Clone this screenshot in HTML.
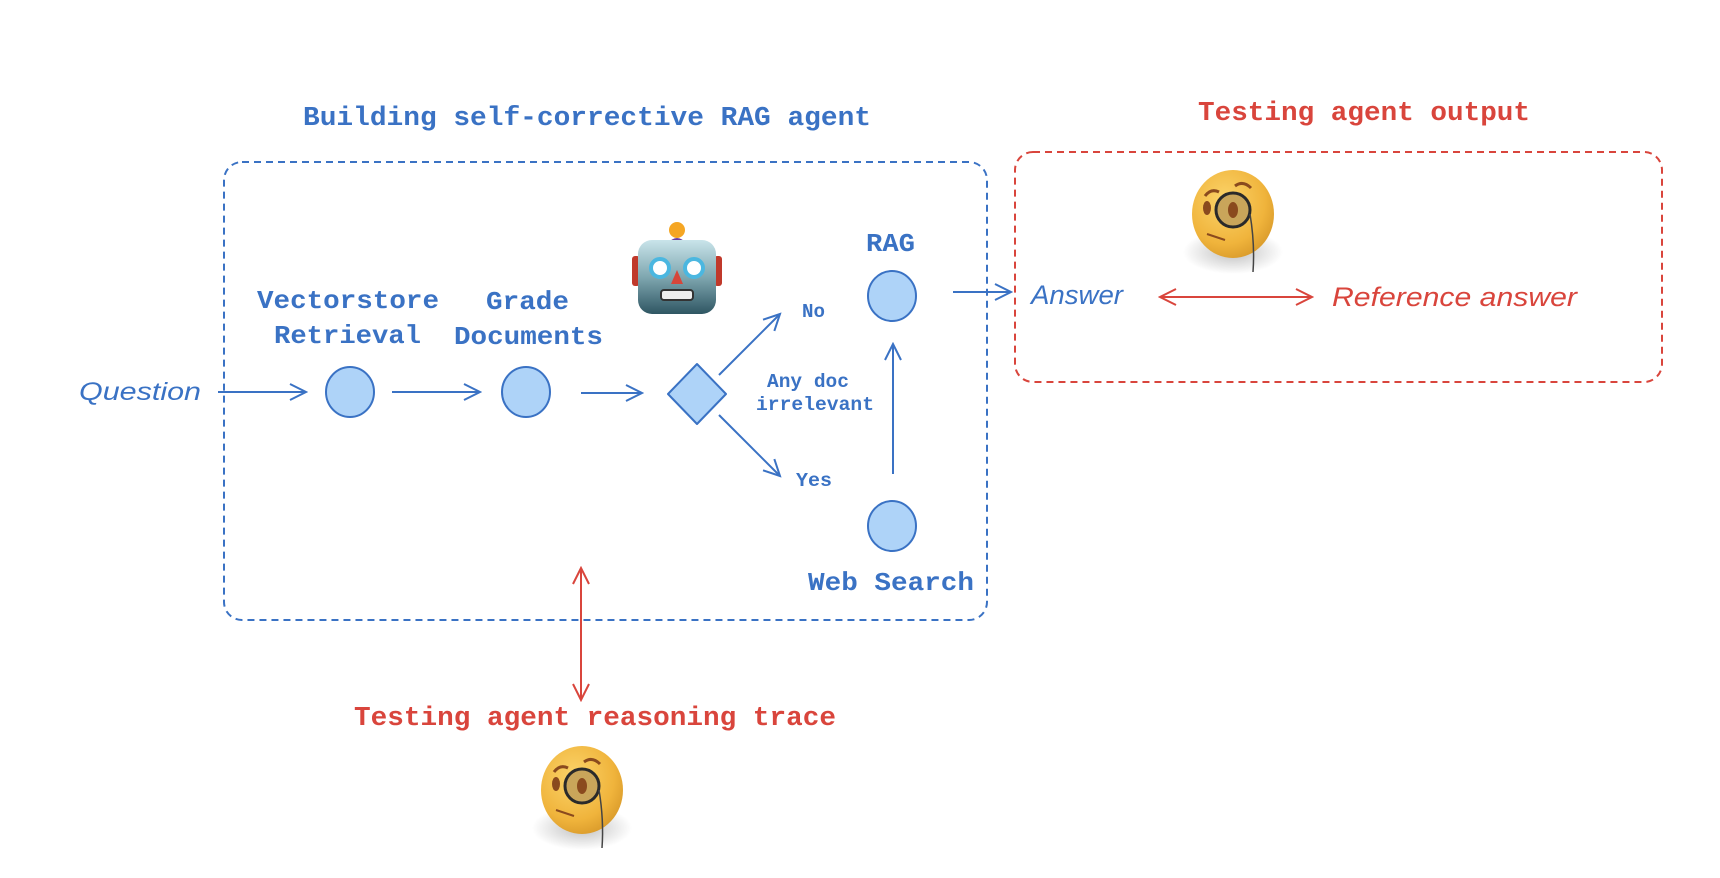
<!DOCTYPE html>
<html><head><meta charset="utf-8"><style>
html,body{margin:0;padding:0;background:#fff;}
svg{display:block;}
.m{font-family:"Liberation Mono","DejaVu Sans Mono",monospace;font-weight:bold;}
.h{font-family:"Liberation Sans","DejaVu Sans",sans-serif;font-style:italic;}
</style></head><body>
<svg width="1720" height="878" viewBox="0 0 1720 878" xmlns="http://www.w3.org/2000/svg">
<defs>
<marker id="ab" viewBox="0 0 20 20" refX="18" refY="10" markerWidth="20" markerHeight="20" markerUnits="userSpaceOnUse" orient="auto-start-reverse"><path d="M2 2 L18 10 L2 18" fill="none" stroke="#3a72c4" stroke-width="2"/></marker>
<marker id="ar" viewBox="0 0 20 20" refX="18" refY="10" markerWidth="20" markerHeight="20" markerUnits="userSpaceOnUse" orient="auto-start-reverse"><path d="M2 2 L18 10 L2 18" fill="none" stroke="#d9453c" stroke-width="2"/></marker>
<linearGradient id="rh" x1="0" y1="0" x2="0" y2="1"><stop offset="0" stop-color="#c9e4ea"/><stop offset="0.5" stop-color="#7fa7b0"/><stop offset="1" stop-color="#2f5663"/></linearGradient>
<radialGradient id="fy" cx="0.4" cy="0.35" r="0.7"><stop offset="0" stop-color="#fbd46a"/><stop offset="0.7" stop-color="#f0b43c"/><stop offset="1" stop-color="#d99a2a"/></radialGradient>
<radialGradient id="sh" cx="0.5" cy="0.5" r="0.5"><stop offset="0" stop-color="#000" stop-opacity="0.25"/><stop offset="1" stop-color="#000" stop-opacity="0"/></radialGradient>
<g id="mono">
<ellipse cx="0" cy="38" rx="50" ry="22" fill="url(#sh)"/>
<ellipse cx="0" cy="0" rx="41" ry="44" fill="url(#fy)"/>
<path d="M-28 -18 Q-22 -26 -14 -22" stroke="#8a4a1e" stroke-width="3" fill="none"/>
<path d="M2 -28 Q10 -34 18 -26" stroke="#8a4a1e" stroke-width="3" fill="none"/>
<ellipse cx="-26" cy="-6" rx="4" ry="7" fill="#8a4a1e"/>
<circle cx="0" cy="-4" r="17" fill="#c9a55a" stroke="#2a2a2a" stroke-width="3"/>
<ellipse cx="0" cy="-4" rx="5" ry="8" fill="#8a4a1e"/>
<path d="M-26 20 L-8 26" stroke="#8a4a1e" stroke-width="2"/>
<path d="M17 0 Q22 30 20 58" stroke="#444" stroke-width="1.5" fill="none"/>
</g>
</defs>

<!-- boxes -->
<rect x="224" y="162" width="763" height="458" rx="18" fill="none" stroke="#3a72c4" stroke-width="2" stroke-dasharray="7 5"/>
<rect x="1015" y="152" width="647" height="230" rx="18" fill="none" stroke="#d9453c" stroke-width="2" stroke-dasharray="7 5"/>

<!-- titles -->
<text class="m" x="303" y="119" fill="#3a72c4" font-size="27" dominant-baseline="central" textLength="568" lengthAdjust="spacingAndGlyphs">Building self-corrective RAG agent</text>
<text class="m" x="1198" y="114" fill="#d9453c" font-size="27" dominant-baseline="central" textLength="332" lengthAdjust="spacingAndGlyphs">Testing agent output</text>
<text class="m" x="354" y="719" fill="#d9453c" font-size="27" dominant-baseline="central" textLength="482" lengthAdjust="spacingAndGlyphs">Testing agent reasoning trace</text>

<!-- labels -->
<g class="m" fill="#3a72c4" font-size="26" dominant-baseline="central">
<text x="257" y="301" textLength="182" lengthAdjust="spacingAndGlyphs">Vectorstore</text>
<text x="274" y="336" textLength="147" lengthAdjust="spacingAndGlyphs">Retrieval</text>
<text x="486" y="302" textLength="83" lengthAdjust="spacingAndGlyphs">Grade</text>
<text x="454" y="337" textLength="149" lengthAdjust="spacingAndGlyphs">Documents</text>
<text x="866" y="244" textLength="49" lengthAdjust="spacingAndGlyphs">RAG</text>
<text x="808" y="583" textLength="166" lengthAdjust="spacingAndGlyphs">Web Search</text>
</g>
<g class="m" fill="#3a72c4" font-size="19" dominant-baseline="central">
<text x="802" y="312" textLength="23" lengthAdjust="spacingAndGlyphs">No</text>
<text x="767" y="382" textLength="82" lengthAdjust="spacingAndGlyphs">Any doc</text>
<text x="756" y="405" textLength="118" lengthAdjust="spacingAndGlyphs">irrelevant</text>
<text x="796" y="481" textLength="36" lengthAdjust="spacingAndGlyphs">Yes</text>
</g>
<text class="h" x="79" y="392" fill="#3a72c4" font-size="25" dominant-baseline="central" textLength="122" lengthAdjust="spacingAndGlyphs">Question</text>
<text class="h" x="1031" y="295" fill="#3a72c4" font-size="27" dominant-baseline="central" textLength="92" lengthAdjust="spacingAndGlyphs">Answer</text>
<text class="h" x="1332" y="297" fill="#d9453c" font-size="27" dominant-baseline="central" textLength="245" lengthAdjust="spacingAndGlyphs">Reference answer</text>

<!-- nodes -->
<g fill="#aed3f8" stroke="#3a72c4" stroke-width="2">
<ellipse cx="350" cy="392" rx="24" ry="25"/>
<ellipse cx="526" cy="392" rx="24" ry="25"/>
<ellipse cx="892" cy="296" rx="24" ry="25"/>
<ellipse cx="892" cy="526" rx="24" ry="25"/>
<path d="M697 364 L726 394 L697 424 L668 394 Z" stroke-linejoin="round"/>
</g>

<!-- arrows -->
<g stroke="#3a72c4" stroke-width="2" fill="none">
<line x1="218" y1="392" x2="306" y2="392" marker-end="url(#ab)"/>
<line x1="392" y1="392" x2="480" y2="392" marker-end="url(#ab)"/>
<line x1="581" y1="393" x2="642" y2="393" marker-end="url(#ab)"/>
<line x1="719" y1="375" x2="780" y2="314" marker-end="url(#ab)"/>
<line x1="719" y1="415" x2="780" y2="476" marker-end="url(#ab)"/>
<line x1="893" y1="474" x2="893" y2="344" marker-end="url(#ab)"/>
<line x1="953" y1="292" x2="1011" y2="292" marker-end="url(#ab)"/>
</g>
<g stroke="#d9453c" stroke-width="2" fill="none">
<line x1="1160" y1="297" x2="1312" y2="297" marker-start="url(#ar)" marker-end="url(#ar)"/>
<line x1="581" y1="568" x2="581" y2="700" marker-start="url(#ar)" marker-end="url(#ar)"/>
</g>

<!-- robot -->
<g>
<circle cx="677" cy="230" r="8" fill="#f5a623"/>
<path d="M667 244 Q677 232 687 244 Z" fill="#6b3fa0"/>
<rect x="632" y="256" width="8" height="30" rx="3" fill="#c0392b"/>
<rect x="714" y="256" width="8" height="30" rx="3" fill="#c0392b"/>
<rect x="638" y="240" width="78" height="74" rx="14" fill="url(#rh)"/>
<circle cx="660" cy="268" r="9" fill="#fff" stroke="#4bb7e0" stroke-width="4"/>
<circle cx="694" cy="268" r="9" fill="#fff" stroke="#4bb7e0" stroke-width="4"/>
<path d="M677 270 L683 284 L671 284 Z" fill="#d6463a"/>
<rect x="661" y="290" width="32" height="10" rx="3" fill="#eee" stroke="#333" stroke-width="2"/>
</g>

<!-- monocle faces -->
<use href="#mono" x="1233" y="214"/>
<use href="#mono" x="582" y="790"/>
</svg>
</body></html>
